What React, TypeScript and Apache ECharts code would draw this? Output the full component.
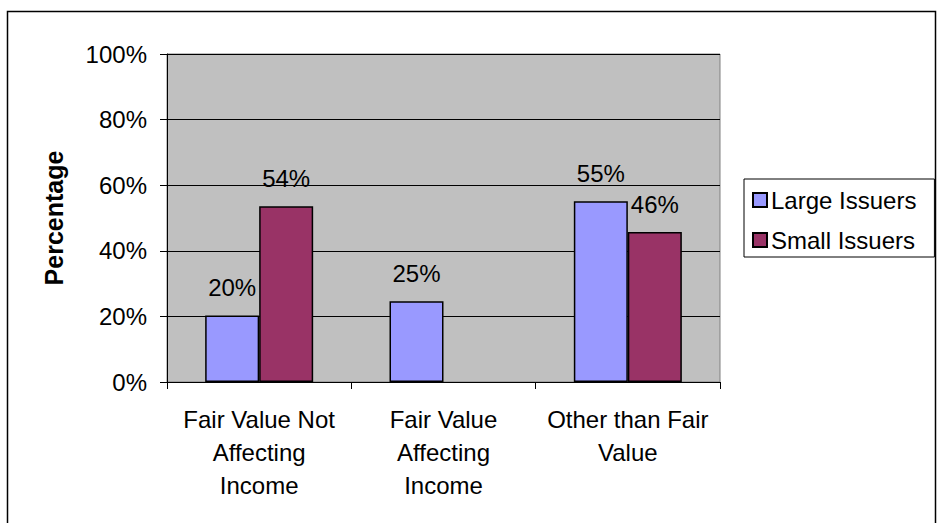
import React, { useEffect, useRef } from "react";
import * as echarts from "echarts";

const categories = [
  "Fair Value Not\nAffecting\nIncome",
  "Fair Value\nAffecting\nIncome",
  "Other than Fair\nValue",
];
const largeIssuers = [20.3, 24.6, 55.1];
const smallIssuers = [53.6, null, 45.7];
const seriesNames = ["Large Issuers", "Small Issuers"];
const yTicks = [0, 20, 40, 60, 80, 100];

const FONT = "Liberation Sans, Arial, sans-serif";
const FS = 24;

export default function App() {
  const ref = useRef<HTMLDivElement>(null);
  useEffect(() => {
    if (!ref.current) return;
    const chart = echarts.init(ref.current, undefined, { renderer: "svg" });
    const label = {
      show: true,
      position: "top" as const,
      distance: 16,
      color: "#000",
      fontFamily: FONT,
      fontSize: FS,
      formatter: (p: any) => (p.value == null ? "" : Math.round(p.value) + "%"),
    };
    chart.setOption({
      animation: false,
      backgroundColor: "#fff",
      textStyle: { fontFamily: FONT },
      graphic: [
        {
          type: "rect",
          shape: { x: 7.5, y: 11.5, width: 928, height: 530 },
          style: { fill: "none", stroke: "#000", lineWidth: 1.5 },
          z: -1,
        },
      ],
      grid: {
        left: 167,
        right: 217,
        top: 54,
        bottom: 141,
        show: true,
        backgroundColor: "#C0C0C0",
        borderColor: "#808080",
        borderWidth: 1,
      },
      legend: {
        left: 744,
        top: 179,
        orient: "vertical",
        data: seriesNames,
        backgroundColor: "#fff",
        borderColor: "#000",
        borderWidth: 1,
        padding: [7, 18, 3, 8],
        itemGap: 12,
        itemWidth: 14,
        itemHeight: 14,
        icon: "rect",
        textStyle: {
          fontFamily: FONT,
          fontSize: FS,
          lineHeight: 28,
          color: "#000",
          padding: [0, 0, 0, -1],
        },
      },
      xAxis: {
        type: "category",
        data: categories,
        axisLine: { lineStyle: { color: "#000", width: 1 } },
        axisTick: { show: true, length: 7, lineStyle: { color: "#000" } },
        axisLabel: {
          fontFamily: FONT,
          fontSize: FS,
          color: "#000",
          lineHeight: 33,
          margin: 21,
          interval: 0,
        },
      },
      yAxis: {
        type: "value",
        min: 0,
        max: 100,
        interval: 20,
        name: "Percentage",
        nameLocation: "middle",
        nameGap: 101,
        nameTextStyle: { fontFamily: FONT, fontSize: 25, fontWeight: "bold", color: "#000" },
        axisLine: { show: true, lineStyle: { color: "#000" } },
        axisTick: { show: true, length: 7, lineStyle: { color: "#000" } },
        splitLine: { lineStyle: { color: "#000", width: 1 } },
        axisLabel: {
          fontFamily: FONT,
          fontSize: FS,
          color: "#000",
          margin: 20,
          customValues: yTicks,
          formatter: (v: number) => v + "%",
        },
      },
      series: [
        {
          name: seriesNames[0],
          type: "bar",
          data: largeIssuers,
          barWidth: 54,
          barGap: "0%",
          itemStyle: { color: "#9999FF", borderColor: "#000", borderWidth: 1.5 },
          label,
        },
        {
          name: seriesNames[1],
          type: "bar",
          data: smallIssuers,
          barWidth: 54,
          barGap: "0%",
          itemStyle: { color: "#993366", borderColor: "#000", borderWidth: 1.5 },
          label,
        },
      ],
    });
    return () => chart.dispose();
  }, []);
  return (
    <div
      ref={ref}
      style={{ position: "fixed", left: 0, top: 0, width: 937, height: 523 }}
    />
  );
}
